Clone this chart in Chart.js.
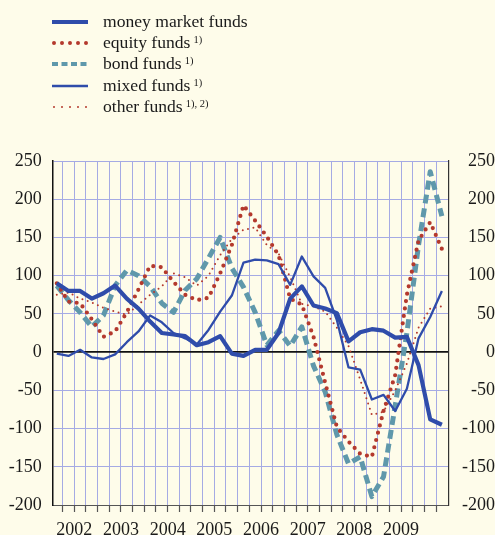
<!DOCTYPE html>
<html>
<head>
<meta charset="utf-8">
<script src="https://cdn.jsdelivr.net/npm/chart.js@4.4.1/dist/chart.umd.min.js"></script>
<style>
  html, body { margin: 0; padding: 0; background: #fefcea; }
  #wrap { position: relative; width: 495px; height: 535px; }
  #legend { position: absolute; left: 0; top: 11px; font-family: "Liberation Serif", "DejaVu Serif", serif; font-size: 17.6px; color: #1a1a1a; }
  .row { position: relative; height: 21.2px; width: 300px; }
  .row svg { position: absolute; left: 52px; top: 6px; }
  .row span { position: absolute; left: 103px; top: 0; line-height: 21px; white-space: nowrap; }
  .row sup { font-size: 10.5px; vertical-align: 5px; line-height: 0; margin-left: 3px; }
</style>
</head>
<body>
<div id="wrap">
  <canvas id="myChart" width="495" height="535"></canvas>
  <div id="legend"></div>
</div>
<script>
// quarterly values, 2002 Q1 .. 2010 Q2
const years = ['2002', '2003', '2004', '2005', '2006', '2007', '2008', '2009']

const moneyMarket = [90, 80, 80, 70, 77, 87, 70, 57, 40, 25, 23, 21, 9, 13, 21, -2, -5, 3,
  3, 25, 70, 86, 61, 57, 51, 14, 26, 30, 28, 19, 20, -17, -88, -95]
const equity = [90, 66, 64, 43, 20, 27, 52, 82, 113, 111, 92, 75, 68, 71, 103, 140, 192, 172,
  151, 127, 70, 62, 20, -40, -98, -117, -133, -137, -77, -30, 75, 146, 170, 135]
const bond = [87, 68, 52, 33, 48, 87, 107, 100, 86, 64, 52, 81, 96, 123, 150, 110, 85, 52,
  9, 28, 8, 33, -18, -52, -108, -146, -137, -189, -163, -70, 25, 140, 236, 178]
const mixed = [-2, -5, 3, -7, -9, -3, 13, 27, 48, 39, 25, 18, 10, 29, 53, 74, 117, 121,
  120, 115, 88, 125, 99, 84, 42, -20, -23, -62, -56, -77, -48, 18, 46, 80]
const other = [75, 78, 70, 65, 58, 53, 49, 62, 75, 86, 103, 98, 87, 100, 127, 148, 160, 163,
  140, 129, 98, 63, 60, 53, 32, 8, -36, -82, -78, -50, -15, 32, 57, 60]

const seriesNames = ['money market funds', 'equity funds', 'bond funds', 'mixed funds', 'other funds']
const seriesNotes = ['', '1)', '1)', '1)', '1), 2)']
const seriesData = [moneyMarket, equity, bond, mixed, other]

const blue = '#2f4caa'
const red = '#b4392d'
const teal = '#5f98ab'
const grid = '#a5aae4'

const styles = [
  { color: blue, width: 4.2, dash: [], cap: 'butt', order: 1 },
  { color: red, width: 4.2, dash: [0, 7.5], cap: 'round', order: 3 },
  { color: teal, width: 5, dash: [9, 5], cap: 'butt', order: 5 },
  { color: blue, width: 2.3, dash: [], cap: 'butt', order: 2 },
  { color: red, width: 2, dash: [0, 5.5], cap: 'round', order: 4 }
]
const legendDash = [[], [0, 8], [6, 3.5], [], [0, 8]]

// legend
const legend = document.getElementById('legend')
seriesNames.forEach((name, i) => {
  const s = styles[i]
  const row = document.createElement('div')
  row.className = 'row'
  const w = i === 1 ? 4 : (i === 2 ? 4 : (i === 4 ? 2 : s.width))
  row.innerHTML =
    '<svg width="38" height="10"><line x1="' + (s.cap === 'round' ? 2 : 0) + '" y1="5" x2="36" y2="5" stroke="' + s.color +
    '" stroke-width="' + w + '" stroke-linecap="' + s.cap + '" stroke-dasharray="' + legendDash[i].join(' ') + '"/></svg>' +
    '<span>' + name + (seriesNotes[i] ? '<sup>' + seriesNotes[i] + '</sup>' : '') + '</span>'
  legend.appendChild(row)
})

const ctx = document.getElementById('myChart').getContext('2d')
const n = moneyMarket.length
const font = { family: '"Liberation Serif", "DejaVu Serif", serif', size: 18 }

new Chart(ctx, {
  type: 'line',
  data: {
    datasets: seriesData.map((arr, i) => ({
      label: seriesNames[i],
      data: arr.map((v, k) => ({ x: k, y: v })),
      borderColor: styles[i].color,
      borderWidth: styles[i].width,
      borderDash: styles[i].dash,
      borderCapStyle: styles[i].cap,
      borderJoinStyle: 'round',
      pointRadius: 0,
      tension: 0,
      order: styles[i].order
    }))
  },
  options: {
    responsive: false,
    animation: false,
    layout: { padding: { top: 161, right: 0, left: 0, bottom: 0 } },
    plugins: { legend: { display: false }, tooltip: { enabled: false } },
    scales: {
      x: {
        type: 'linear',
        min: -0.35,
        max: n - 1 + 0.55,
        afterBuildTicks: axis => {
          axis.ticks = Array.from({ length: n - 1 }, (_, k) => ({ value: k + 0.5 }))
        },
        afterFit: axis => { axis.height = 30 },
        grid: { color: grid, lineWidth: 1, tickLength: 7, tickColor: '#555', tickWidth: 1.2 },
        border: { display: true, color: '#555', width: 1 },
        ticks: {
          autoSkip: false,
          maxRotation: 0,
          padding: 7,
          color: '#1a1a1a',
          font: font,
          callback: value => {
            const k = (value - 1.5) / 4
            return Number.isInteger(k) && k < years.length ? years[k] : ''
          }
        }
      },
      y: {
        position: 'left',
        min: -200,
        max: 250,
        afterFit: axis => { axis.width = 52.7 },
        ticks: { stepSize: 50, padding: 11, color: '#1a1a1a', font: font },
        grid: {
          drawTicks: false,
          color: c => (c.tick && c.tick.value === 0 ? '#111' : grid),
          lineWidth: c => (c.tick && c.tick.value === 0 ? 1.8 : 1)
        },
        border: { display: true, color: '#111', width: 1.5 }
      },
      y2: {
        position: 'right',
        min: -200,
        max: 250,
        afterFit: axis => { axis.width = 46.7 },
        ticks: { stepSize: 50, padding: 10, crossAlign: 'far', color: '#1a1a1a', font: font },
        grid: { display: false, drawTicks: false },
        border: { display: true, color: '#333', width: 1.2 }
      }
    }
  }
})
</script>
</body>
</html>
